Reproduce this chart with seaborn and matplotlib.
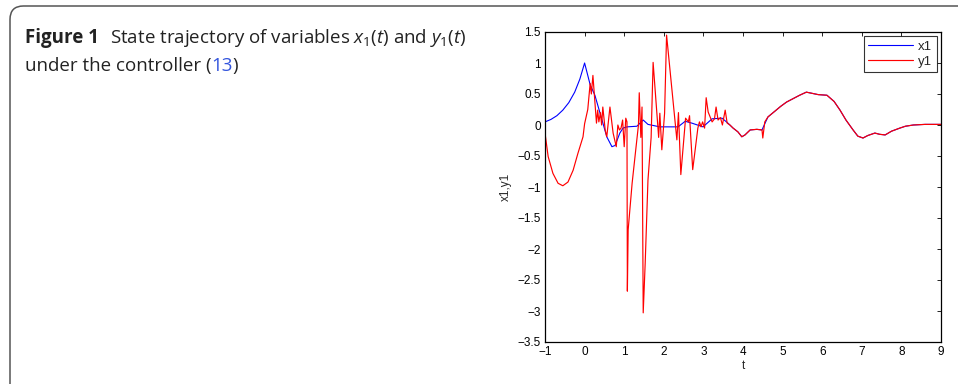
import pandas as pd
import matplotlib
matplotlib.use("Agg")
import matplotlib.pyplot as plt
import seaborn as sns
from matplotlib.patches import FancyBboxPatch

# trajectory values
t_y1 = [-1.0, -0.92, -0.8, -0.67, -0.55, -0.42, -0.29, -0.17, -0.04,
        0.0, 0.08, 0.14, 0.17, 0.21, 0.26, 0.30, 0.33, 0.36, 0.40,
        0.43, 0.46, 0.52, 0.56, 0.64, 0.72, 0.80, 0.84, 0.88, 0.92,
        0.96, 1.00, 1.04, 1.07, 1.08, 1.10, 1.20, 1.30, 1.36, 1.38,
        1.42, 1.45, 1.48, 1.53, 1.60, 1.68, 1.73, 1.87, 1.90, 1.95,
        2.02, 2.07, 2.33, 2.37, 2.43, 2.55, 2.62, 2.65, 2.73, 2.86,
        2.90, 2.94, 2.98, 3.03, 3.07, 3.12, 3.22, 3.28, 3.32, 3.37,
        3.43, 3.48, 3.55, 3.60, 3.67, 3.75, 3.87, 3.97, 4.05, 4.18,
        4.35, 4.48, 4.50, 4.55, 4.63, 4.8, 4.95, 5.1, 5.25, 5.43,
        5.6, 5.75, 5.9, 6.12, 6.3, 6.45, 6.6, 6.78, 6.9, 7.03,
        7.15, 7.33, 7.45, 7.59, 7.75, 7.96, 8.1, 8.3, 8.6, 9.0]
y1 = [-0.13, -0.51, -0.78, -0.94, -0.98, -0.92, -0.73, -0.46, -0.19,
      0.02, 0.25, 0.67, 0.5, 0.8, 0.37, 0.03, 0.24, 0.05, 0.2,
      0.0, 0.29, -0.08, -0.19, 0.29, -0.13, -0.35, 0.0, -0.08, -0.05,
      0.08, -0.35, 0.11, 0.05, -2.68, -1.69, -0.94, -0.35, 0.0, 0.52,
      -0.2, 0.29, -3.03, -2.23, -0.89, -0.2, 1.01, -0.2, 0.19, -0.4,
      0.19, 1.45, -0.24, 0.2, -0.8, 0.11, 0.05, 0.15, -0.72, -0.05,
      0.05, -0.03, 0.05, -0.05, 0.44, 0.21, 0.05, 0.1, 0.29, 0.08,
      0.12, 0.0, 0.24, 0.03, 0.0, -0.05, -0.11, -0.19, -0.16, -0.08,
      -0.07, -0.08, -0.21, 0.05, 0.13, 0.22, 0.3, 0.37, 0.42, 0.48,
      0.53, 0.51, 0.49, 0.48, 0.38, 0.24, 0.08, -0.08, -0.18, -0.21,
      -0.17, -0.13, -0.15, -0.16, -0.1, -0.05, -0.02, 0.0, 0.01, 0.01]

t_x1 = [-1.0, -0.85, -0.7, -0.55, -0.4, -0.25, -0.12, 0.0, 0.14, 0.26,
        0.44, 0.56, 0.69, 0.77, 0.89, 0.97, 1.07, 1.32, 1.48, 1.6,
        1.9, 2.36, 2.54, 2.71, 2.99, 3.22, 3.47, 3.62, 3.75, 3.87,
        3.97, 4.05, 4.18, 4.35, 4.48, 4.55, 4.63, 4.8, 4.95, 5.1,
        5.25, 5.43, 5.6, 5.75, 5.9, 6.12, 6.3, 6.45, 6.6, 6.78,
        6.9, 7.03, 7.15, 7.33, 7.45, 7.59, 7.75, 7.96, 8.1, 8.3,
        8.6, 9.0]
x1 = [0.05, 0.09, 0.15, 0.24, 0.36, 0.53, 0.74, 1.0, 0.65, 0.48,
      0.08, -0.19, -0.35, -0.33, -0.13, -0.05, -0.03, -0.02, 0.08, 0.01,
      -0.03, -0.03, 0.06, 0.03, -0.03, 0.1, 0.11, 0.03, -0.05, -0.11,
      -0.19, -0.16, -0.08, -0.07, -0.08, 0.02, 0.13, 0.22, 0.3, 0.37,
      0.42, 0.48, 0.53, 0.51, 0.49, 0.48, 0.38, 0.24, 0.08, -0.08,
      -0.18, -0.21, -0.17, -0.13, -0.15, -0.16, -0.1, -0.05, -0.02, 0.0,
      0.01, 0.01]

x_ticks = list(range(-1, 10))
y_ticks = [1.5, 1, 0.5, 0, -0.5, -1, -1.5, -2, -2.5, -3, -3.5]

sns.set_theme(style="white")
plt.rcParams['font.family'] = ['Liberation Sans', 'DejaVu Sans']
plt.rcParams['mathtext.fontset'] = 'custom'
plt.rcParams['mathtext.rm'] = 'Open Sans'
plt.rcParams['mathtext.it'] = 'Open Sans:italic'

fig = plt.figure(figsize=(9.58, 3.84), dpi=100)

# card frame with rounded corner (runs off the right and bottom edges)
frame = FancyBboxPatch((10 / 958, -0.05), 1.2, 1.05 - 6 / 384,
                       boxstyle="round,pad=0,rounding_size=0.014",
                       transform=fig.transFigure, fill=False,
                       edgecolor='#555555', linewidth=1.1, mutation_aspect=2.5)
fig.patches.append(frame)

ax = fig.add_axes([545 / 958, 42 / 384, 396 / 958, 310 / 384])

df_x = pd.DataFrame({'t': t_x1, 'v': x1})
df_y = pd.DataFrame({'t': t_y1, 'v': y1})
sns.lineplot(data=df_x, x='t', y='v', ax=ax, color='#0000ff', linewidth=0.8,
             sort=False, estimator=None, label='x1')
sns.lineplot(data=df_y, x='t', y='v', ax=ax, color='#ff0000', linewidth=0.85,
             sort=False, estimator=None, label='y1')

ax.set_xlim(-1, 9)
ax.set_ylim(-3.5, 1.5)
ax.set_xticks(x_ticks)
ax.set_xticklabels([str(v).replace('-', '\u2212') for v in x_ticks])
ax.set_yticks(y_ticks)
ax.set_yticklabels([('%g' % v).replace('-', '\u2212') for v in y_ticks])
ax.tick_params(direction='in', length=3, width=0.6, labelsize=8.5,
               top=True, right=True, colors='black')
ax.tick_params(axis='x', pad=3)
ax.tick_params(axis='y', pad=3)
ax.set_xlabel('t', fontsize=8.5, labelpad=1)
ax.set_ylabel('x1,y1', fontsize=8.5, labelpad=4)
for s in ax.spines.values():
    s.set_color('black')
    s.set_linewidth(0.9)
ax.grid(False)

leg = ax.legend(loc='upper right', fontsize=9.5, frameon=True, fancybox=False,
                borderaxespad=0.3, handlelength=3.4, handletextpad=0.4,
                borderpad=0.35, labelspacing=0.2)
leg.get_frame().set_edgecolor('black')
leg.get_frame().set_linewidth(0.8)

# caption, placed piece by piece
renderer = fig.canvas.get_renderer()


def put(x, y, s, color='#222222', **kw):
    txt = fig.text(x / 958, 1 - y / 384, s, fontsize=13.5, family='Open Sans',
                   va='baseline', ha='left', color=color, **kw)
    return x + txt.get_window_extent(renderer=renderer).width


x = put(25, 43, 'Figure 1', fontweight='bold')
put(x + 11, 43, r'State trajectory of variables $x_1(t)$ and $y_1(t)$')
x = put(25, 71, 'under the controller (')
x = put(x, 71, '13', color='#3355dd')
put(x, 71, ')')

fig.savefig('out.png', dpi=100)
